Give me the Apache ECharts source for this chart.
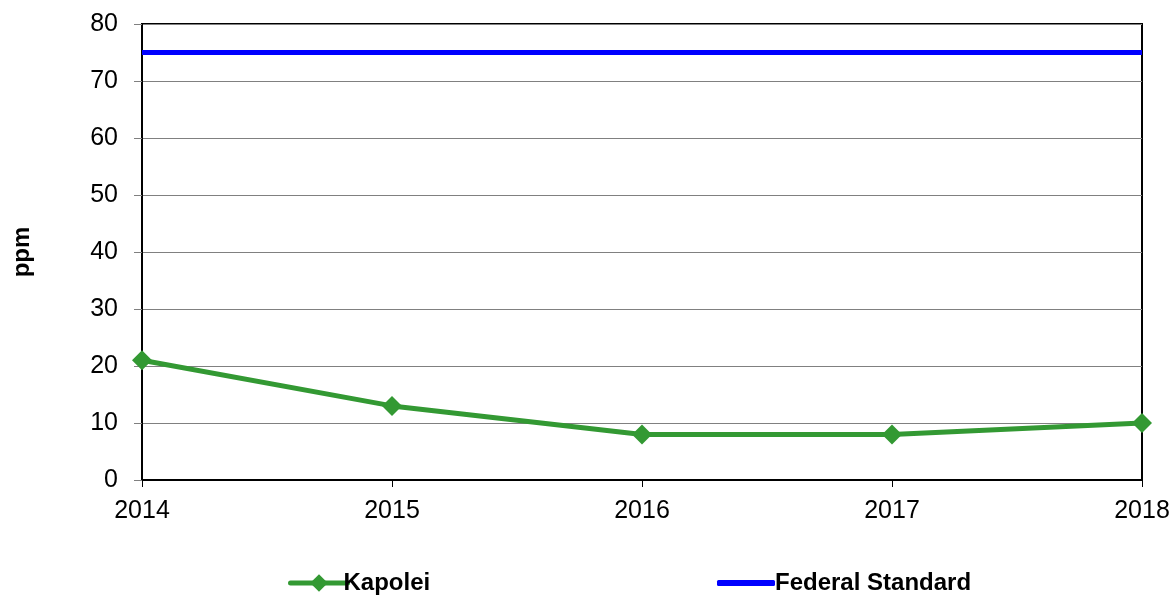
<!DOCTYPE html>
<html>
<head>
<meta charset="utf-8">
<script src="https://cdn.jsdelivr.net/npm/echarts@6/dist/echarts.min.js"></script>
<style>
  html, body { margin: 0; padding: 0; background: #fff; }
  #chart { width: 1176px; height: 598px; }
</style>
</head>
<body>
<div id="chart"></div>
<script>
// data
let years = ['2014', '2015', '2016', '2017', '2018'];
let kapolei = [21, 13, 8, 8, 10];
let federalStandard = [75, 75, 75, 75, 75];

let chart = echarts.init(document.getElementById('chart'));

let font = 'Liberation Sans, Arial, sans-serif';

let legendText = { fontSize: 24, fontWeight: 'bold', color: '#000', fontFamily: font, padding: [0, 0, 0, -9] };

let option = {
  animation: false,
  textStyle: { fontFamily: font },
  grid: {
    left: 142, right: 34, top: 24, bottom: 118,
    show: true, borderColor: '#000', borderWidth: 2
  },
  legend: [
    {
      data: [{ name: 'Kapolei' }],
      left: 283, top: 566,
      itemWidth: 57, itemHeight: 22, itemGap: 0,
      lineStyle: { width: 5, cap: 'round' },
      textStyle: legendText
    },
    {
      data: [{ name: 'Federal Standard', icon: 'roundRect' }],
      left: 712, top: 566,
      itemWidth: 58, itemHeight: 6, itemGap: 0,
      textStyle: { ...legendText, padding: [0, 0, 0, -5] }
    }
  ],
  xAxis: {
    type: 'category',
    data: years,
    boundaryGap: false,
    axisLine: { lineStyle: { color: '#000', width: 2 } },
    axisTick: { show: true, length: 7, lineStyle: { color: '#000' }, alignWithLabel: true },
    axisLabel: { fontSize: 25, color: '#000', margin: 19, fontFamily: font }
  },
  yAxis: {
    type: 'value',
    min: 0, max: 80, interval: 10,
    name: 'ppm',
    nameLocation: 'middle',
    nameGap: 108,
    nameRotate: 90,
    nameTextStyle: { fontSize: 24, fontWeight: 'bold', color: '#000', fontFamily: font },
    axisLine: { show: true, lineStyle: { color: '#000', width: 2 } },
    axisTick: { show: true, length: 8, lineStyle: { color: '#808080' } },
    axisLabel: { fontSize: 25, color: '#000', margin: 24, fontFamily: font },
    splitLine: { lineStyle: { color: '#808080', width: 1 } }
  },
  series: [
    {
      name: 'Kapolei',
      type: 'line',
      data: kapolei,
      symbol: 'diamond',
      symbolSize: 20,
      itemStyle: { color: '#339933' },
      lineStyle: { color: '#339933', width: 5 },
      z: 3
    },
    {
      name: 'Federal Standard',
      type: 'line',
      data: federalStandard,
      symbol: 'none',
      itemStyle: { color: '#0000ff' },
      lineStyle: { color: '#0000ff', width: 5 },
      z: 2
    }
  ]
};

chart.setOption(option);
</script>
</body>
</html>
